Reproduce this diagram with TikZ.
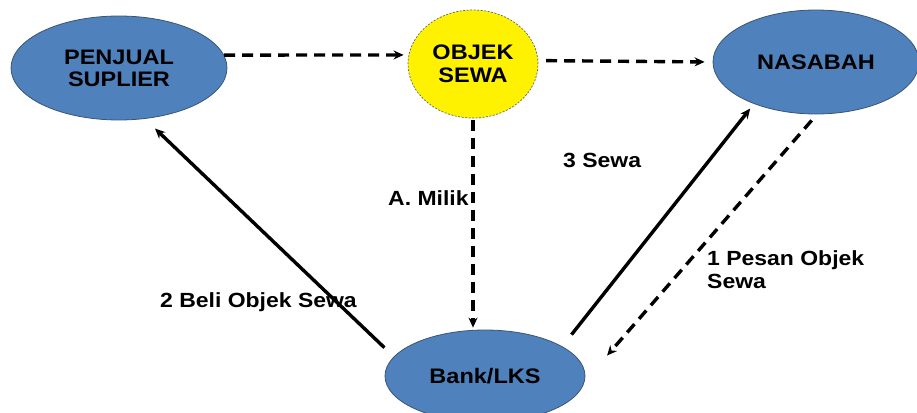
\documentclass[tikz,border=0pt]{standalone}
\usepackage{fontspec}
\setmainfont{Liberation Sans}
\newfontfamily\boxfont[FakeStretch=1.12]{Liberation Sans}
\usetikzlibrary{shapes.geometric,arrows.meta}
\definecolor{partyblue}{HTML}{4F81BD}
\definecolor{partyedge}{HTML}{3B5573}
\tikzset{
  party/.style={ellipse, draw=partyedge, line width=0.8pt, fill=partyblue,
    inner sep=0pt, align=center, font=\boxfont\bfseries\fontsize{21}{22}\selectfont},
  goods/.style={ellipse, draw=black!60, dashed, dash pattern=on 2pt off 1.5pt,
    line width=0.7pt, fill=yellow, inner sep=0pt, align=center,
    font=\boxfont\bfseries\fontsize{21}{23}\selectfont},
  flow/.style={line width=3.4pt, -{Stealth[length=10pt,width=9pt]}},
  dflow/.style={flow, dash pattern=on 11pt off 7pt},
  lbl/.style={anchor=base west, inner sep=0pt, align=left,
    font=\boxfont\bfseries\fontsize{20.5}{23}\selectfont}
}
\begin{document}
\begin{tikzpicture}[x=1pt, y=-1pt]
  \useasboundingbox (0,0) rectangle (917,412);
  \clip (0,0) rectangle (917,412);

  % parties and the leased object
  \node[party, minimum width=216pt, minimum height=104pt] (pen) at (119,68) {PENJUAL\\SUPLIER};
  \node[goods, minimum width=130pt, minimum height=108pt] (obj) at (473,64) {OBJEK\\SEWA};
  \node[party, minimum width=206pt, minimum height=104pt] (nas) at (816,62) {NASABAH};
  \node[party, minimum width=200pt, minimum height=92pt] (bank) at (485,376) {Bank/LKS};

  % flows of the object
  \draw[dflow, shorten >=5pt] (pen.7) -- (obj.172);
  \draw[dflow, shorten <=8pt, shorten >=8pt] (obj.3) -- (nas.180);
  \draw[dflow, shorten <=2pt, shorten >=2pt] (obj.south) -- (obj.south |- bank.north);

  % contract steps
  \draw[flow, shorten <=13pt, shorten >=14pt] (bank.168) -- (pen.297);
  \draw[flow, shorten <=15pt, shorten >=6pt] (bank.21.5) -- (nas.214.6);
  \draw[dflow, shorten <=8pt, shorten >=34pt] (nas.271) -- (bank.357);

  % labels
  \node[lbl] (lmilik) at (388,205) {A. Milik};
  \node[lbl] (lsewa) at (563,167) {3 Sewa};
  \node[lbl] (lbeli) at (160,307) {2 Beli Objek Sewa};
  \node[lbl] (lpesan) at (707,288) {1 Pesan Objek\\Sewa};
\end{tikzpicture}
\end{document}
